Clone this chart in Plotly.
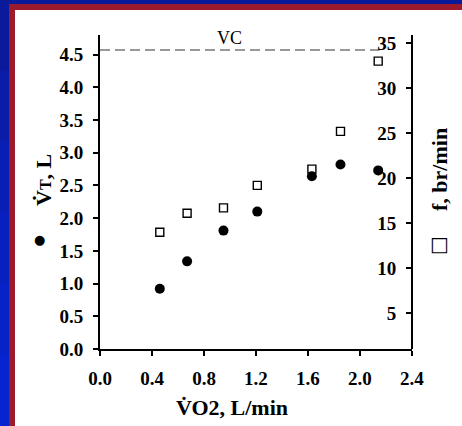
import plotly.graph_objects as go

# ---- data ----
vo2 = [0.46, 0.67, 0.95, 1.21, 1.63, 1.85, 2.14]          # L/min
vt = [0.92, 1.34, 1.81, 2.10, 2.64, 2.82, 2.73]            # L (left axis)
freq = [14.0, 16.1, 16.7, 19.2, 21.0, 25.2, 33.0]          # br/min (right axis)
vc_value = 4.57
vc_x = [0.0, 2.15]

x_ticks = [0.0, 0.4, 0.8, 1.2, 1.6, 2.0, 2.4]
y_ticks = [0.0, 0.5, 1.0, 1.5, 2.0, 2.5, 3.0, 3.5, 4.0, 4.5]
y2_ticks = [5, 10, 15, 20, 25, 30, 35]

W, H = 462, 426
L, R, T, B = 100, 50, 35, 77
pw, ph = W - L - R, H - T - B


def px_x(px):
    return (px - L) / pw


def px_y(py):
    return (H - B - py) / ph


def rect(x0, y0, x1, y1, color):
    return dict(type="rect", xref="paper", yref="paper",
                x0=px_x(x0), x1=px_x(x1), y0=px_y(y1), y1=px_y(y0),
                fillcolor=color, line=dict(width=0), layer="below")


SERIF = "Liberation Serif"
tickfont = dict(family=SERIF, size=19, color="black", weight="bold")

fig = go.Figure()

fig.add_trace(go.Scatter(
    x=vc_x, y=[vc_value] * len(vc_x), mode="lines",
    line=dict(color="#777777", width=1.6, dash="10px,5px"),
    hoverinfo="skip", showlegend=False))

fig.add_trace(go.Scatter(
    x=vo2, y=vt, mode="markers",
    marker=dict(symbol="circle", size=10, color="black"),
    showlegend=False))

fig.add_trace(go.Scatter(
    x=vo2, y=freq, mode="markers", yaxis="y2",
    marker=dict(symbol="square-open", size=8, color="black",
                line=dict(width=1.4, color="black")),
    showlegend=False))

# frame: blue (gradient) background, red strips, white panel
shapes = []
blues = ["#0b1a9c", "#0a1ca8", "#091eb4", "#0820be", "#0722c7", "#0624d0"]
n = len(blues)
for i, c in enumerate(blues):
    shapes.append(rect(-2, H * i / n - 0.5, W + 2,
                       H * (i + 1) / n + 0.5 if i < n - 1 else H + 2, c))
shapes.append(rect(-2, -2, W + 2, 4, "#0b1a98"))
shapes.append(rect(9, 4, W + 2, H + 2, "#9b1b2c"))
shapes.append(rect(15, 10, W + 2, H + 2, "white"))

annotations = [
    dict(text="VC", x=1.0, y=4.75, xref="x", yref="y", showarrow=False,
         font=dict(family=SERIF, size=18, color="black"),
         xanchor="center", yanchor="middle"),
    dict(text="V\u0307<span style='font-size:16px'>T</span>, L",
         x=px_x(43), y=px_y(180), xref="paper", yref="paper",
         showarrow=False, textangle=-90,
         font=dict(family=SERIF, size=22, color="black", weight="bold"),
         xanchor="center", yanchor="middle"),
    dict(text="\u25cf", x=px_x(39), y=px_y(239), xref="paper", yref="paper",
         showarrow=False,
         font=dict(family="DejaVu Sans", size=13, color="black"),
         xanchor="center", yanchor="middle"),
    dict(text="f, br/min", x=px_x(439), y=px_y(170), xref="paper", yref="paper",
         showarrow=False, textangle=-90,
         font=dict(family=SERIF, size=22, color="black", weight="bold"),
         xanchor="center", yanchor="middle"),
    dict(text="\u25a1", x=px_x(440), y=px_y(244), xref="paper", yref="paper",
         showarrow=False,
         font=dict(family="DejaVu Sans", size=20, color="black"),
         xanchor="center", yanchor="middle"),
    dict(text="V\u0307O2, L/min", x=px_x(232), y=px_y(407), xref="paper",
         yref="paper", showarrow=False,
         font=dict(family=SERIF, size=22, color="black", weight="bold"),
         xanchor="center", yanchor="middle"),
]

fig.update_layout(
    width=W, height=H,
    margin=dict(l=L, r=R, t=T, b=B, pad=0, autoexpand=False),
    paper_bgcolor="#0b1a98",
    plot_bgcolor="rgba(0,0,0,0)",
    shapes=shapes,
    annotations=annotations,
    xaxis=dict(range=[0, 2.4001], tickvals=x_ticks, tickformat=".1f",
               showgrid=False, zeroline=False, showline=True,
               linecolor="black", linewidth=2, ticks="outside",
               ticklen=5, tickwidth=2, tickcolor="black", automargin=False,
               tickfont=tickfont, ticklabelstandoff=6),
    yaxis=dict(range=[0, 4.8], tickvals=y_ticks, tickformat=".1f",
               showgrid=False, zeroline=False, showline=True,
               linecolor="black", linewidth=2, ticks="outside",
               ticklen=5, tickwidth=2, tickcolor="black", automargin=False,
               tickfont=tickfont, ticklabelstandoff=6),
    yaxis2=dict(range=[1.03, 35.9], tickvals=y2_ticks, overlaying="y",
                side="left", anchor="free", position=1.0,
                showgrid=False, zeroline=False, showline=True,
                linecolor="black", linewidth=2, ticks="outside",
                automargin=False,
                ticklen=5, tickwidth=2, tickcolor="black",
                tickfont=tickfont, ticklabelstandoff=6),
)

fig.write_html(
    "out.html", config={"displayModeBar": False},
    post_script=(
        "document.body.style.margin='0';"
        "document.body.style.background='#0b1a98';"
        "var d=document.querySelector('.plotly-graph-div');"
        "if(d){d.style.position='fixed';d.style.top='0';d.style.left='0';}"
        "window.scrollTo(0,0);"
    ))
